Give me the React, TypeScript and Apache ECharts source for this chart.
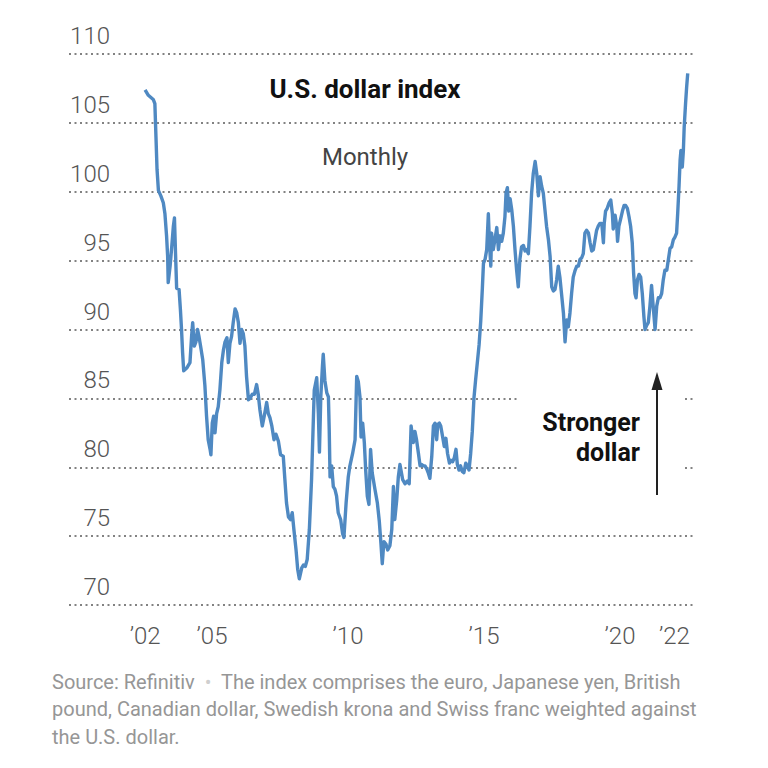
import React, { useEffect, useRef } from "react";
import * as echarts from "echarts";

// Monthly U.S. dollar index (Refinitiv)
const dates = [
  2002.54, 2002.66, 2002.84, 2002.90, 2002.94, 2002.98, 2003.03, 2003.12, 2003.21, 2003.27,
  2003.33, 2003.37, 2003.39, 2003.46, 2003.52, 2003.58, 2003.62, 2003.66, 2003.70, 2003.79,
  2003.84, 2003.88, 2003.92, 2003.96, 2004.07, 2004.19, 2004.25, 2004.29, 2004.35, 2004.41,
  2004.47, 2004.52, 2004.58, 2004.66, 2004.74, 2004.80, 2004.86, 2004.93, 2004.96, 2005.01,
  2005.06, 2005.11, 2005.17, 2005.23, 2005.29, 2005.36, 2005.42, 2005.48, 2005.55, 2005.60,
  2005.66, 2005.72, 2005.78, 2005.85, 2005.91, 2005.97, 2006.03, 2006.09, 2006.15, 2006.21,
  2006.27, 2006.34, 2006.40, 2006.48, 2006.56, 2006.64, 2006.70, 2006.76, 2006.85, 2006.92,
  2007.01, 2007.07, 2007.13, 2007.20, 2007.28, 2007.35, 2007.44, 2007.52, 2007.62, 2007.68,
  2007.74, 2007.81, 2007.89, 2007.95, 2008.01, 2008.09, 2008.15, 2008.21, 2008.30, 2008.36,
  2008.43, 2008.50, 2008.58, 2008.66, 2008.73, 2008.76, 2008.85, 2008.91, 2008.95, 2009.00,
  2009.06, 2009.09, 2009.15, 2009.22, 2009.28, 2009.31, 2009.34, 2009.40, 2009.46, 2009.52,
  2009.58, 2009.64, 2009.73, 2009.80, 2009.85, 2009.93, 2010.01, 2010.07, 2010.17, 2010.26,
  2010.32, 2010.38, 2010.44, 2010.48, 2010.54, 2010.60, 2010.65, 2010.71, 2010.77, 2010.83,
  2010.89, 2010.99, 2011.08, 2011.15, 2011.21, 2011.26, 2011.32, 2011.40, 2011.46, 2011.54,
  2011.61, 2011.67, 2011.72, 2011.79, 2011.85, 2011.91, 2012.01, 2012.10, 2012.18, 2012.25,
  2012.32, 2012.40, 2012.46, 2012.52, 2012.59, 2012.65, 2012.71, 2012.77, 2012.83, 2012.89,
  2012.95, 2013.01, 2013.08, 2013.14, 2013.20, 2013.26, 2013.30, 2013.36, 2013.41, 2013.48,
  2013.54, 2013.60, 2013.66, 2013.73, 2013.79, 2013.85, 2013.91, 2013.97, 2014.02, 2014.08,
  2014.14, 2014.20, 2014.26, 2014.33, 2014.39, 2014.45, 2014.51, 2014.57, 2014.63, 2014.69,
  2014.75, 2014.82, 2014.88, 2014.94, 2014.98, 2015.04, 2015.10, 2015.16, 2015.20, 2015.25,
  2015.28, 2015.34, 2015.40, 2015.47, 2015.53, 2015.59, 2015.65, 2015.71, 2015.77, 2015.81,
  2015.86, 2015.91, 2015.96, 2016.02, 2016.08, 2016.14, 2016.20, 2016.26, 2016.32, 2016.38,
  2016.45, 2016.51, 2016.57, 2016.63, 2016.69, 2016.75, 2016.81, 2016.88, 2016.94, 2017.00,
  2017.06, 2017.12, 2017.18, 2017.24, 2017.30, 2017.37, 2017.43, 2017.49, 2017.55, 2017.61,
  2017.67, 2017.73, 2017.79, 2017.85, 2017.92, 2017.98, 2018.04, 2018.10, 2018.16, 2018.22,
  2018.28, 2018.35, 2018.41, 2018.47, 2018.53, 2018.59, 2018.65, 2018.71, 2018.77, 2018.84,
  2018.90, 2018.96, 2019.02, 2019.08, 2019.14, 2019.20, 2019.26, 2019.33, 2019.39, 2019.42,
  2019.47, 2019.53, 2019.60, 2019.66, 2019.72, 2019.75, 2019.82, 2019.88, 2019.91, 2019.96,
  2020.02, 2020.09, 2020.15, 2020.21, 2020.27, 2020.33, 2020.39, 2020.45, 2020.50, 2020.55,
  2020.59, 2020.64, 2020.70, 2020.76, 2020.82, 2020.88, 2020.92, 2020.98, 2021.04, 2021.10,
  2021.16, 2021.22, 2021.29, 2021.35, 2021.41, 2021.47, 2021.53, 2021.59, 2021.65, 2021.72,
  2021.78, 2021.84, 2021.90, 2021.96, 2022.02, 2022.08, 2022.12, 2022.17, 2022.21, 2022.24,
  2022.29, 2022.33, 2022.36, 2022.41, 2022.45, 2022.49,
];

const indexValues = [
  107.4, 107.0, 106.7, 106.4, 104.0, 101.6, 100.1, 99.7, 99.2, 98.4,
  96.8, 95.3, 93.4, 94.6, 96.0, 97.5, 98.1, 95.5, 93.0, 92.9,
  91.4, 90.0, 88.3, 87.0, 87.2, 87.6, 89.5, 90.5, 88.8, 89.1,
  90.0, 89.5, 88.8, 87.8, 85.9, 83.7, 82.0, 81.3, 80.9, 83.2,
  83.7, 82.5, 83.9, 84.4, 85.6, 87.6, 88.5, 89.1, 89.4, 87.6,
  89.0, 89.5, 90.5, 91.5, 91.2, 90.5, 89.0, 90.0, 89.7, 88.8,
  86.6, 84.9, 85.0, 85.3, 85.3, 86.0, 85.3, 84.2, 83.0, 83.7,
  84.7, 83.9, 83.6, 83.0, 82.0, 82.4, 81.9, 80.9, 80.8, 79.1,
  77.4, 76.4, 76.2, 76.7, 75.5, 74.0, 72.6, 71.9, 72.7, 72.9,
  72.8, 73.3, 75.5, 79.1, 83.7, 85.6, 86.5, 83.9, 81.1, 85.1,
  87.3, 88.2, 86.3, 85.4, 85.1, 82.7, 79.3, 80.1, 78.6, 78.4,
  77.9, 76.7, 76.2, 75.2, 74.9, 77.4, 79.3, 80.1, 81.0, 82.0,
  86.6, 86.2, 85.1, 82.2, 83.2, 81.8, 79.8, 77.9, 77.3, 81.3,
  79.6, 78.4, 77.4, 76.1, 74.5, 73.0, 74.6, 74.4, 74.0, 74.3,
  75.5, 78.6, 76.2, 77.6, 79.3, 80.2, 79.1, 78.8, 79.0, 78.8,
  83.0, 81.8, 82.6, 82.0, 81.0, 80.1, 80.2, 80.1, 80.1, 79.9,
  79.6, 79.2, 80.8, 83.0, 83.2, 82.0, 83.1, 83.2, 83.0, 82.2,
  81.5, 82.1, 81.0, 80.3, 80.5, 80.4, 80.7, 81.3, 80.2, 79.8,
  80.1, 79.7, 79.6, 80.3, 80.1, 79.8, 81.0, 82.6, 85.0, 86.3,
  87.5, 88.9, 90.6, 93.0, 94.8, 95.1, 95.8, 98.4, 96.3, 94.6,
  97.0, 95.8, 96.5, 97.4, 95.8, 96.8, 96.4, 97.0, 98.2, 99.9,
  100.3, 98.6, 99.5, 98.7, 97.5, 95.8, 94.3, 93.1, 95.1, 96.0,
  96.1, 95.7, 95.8, 95.5, 97.5, 99.9, 101.3, 102.2, 101.3, 99.7,
  101.1, 100.4, 99.9, 98.7, 97.5, 96.5, 95.3, 93.1, 92.8, 92.9,
  93.6, 94.6, 93.8, 92.6, 91.2, 89.1, 90.7, 90.2, 91.2, 92.6,
  93.8, 94.3, 94.6, 94.6, 95.1, 95.2, 95.5, 97.0, 97.2, 97.0,
  96.3, 95.7, 95.8, 96.5, 97.2, 97.5, 97.7, 97.7, 96.3, 97.7,
  98.6, 98.8, 99.2, 99.4, 98.4, 97.3, 98.3, 97.5, 96.4, 97.5,
  98.0, 98.6, 99.0, 99.0, 98.8, 98.2, 97.5, 96.3, 94.1, 92.6,
  92.3, 93.6, 94.0, 93.8, 92.6, 90.9, 90.0, 90.3, 90.5, 91.7,
  93.2, 91.7, 90.0, 91.7, 92.3, 92.3, 92.6, 93.6, 94.3, 94.3,
  95.1, 95.9, 96.0, 96.5, 96.7, 97.0, 98.4, 100.4, 102.3, 103.0,
  101.8, 103.0, 104.7, 106.4, 107.6, 108.6,
];

const tickYears = [2002.54, 2005, 2010, 2015, 2020, 2022];
const tickLabels = ["’02", "’05", "’10", "’15", "’20", "’22"];
const yMin = 70;
const yMax = 110;
const yStep = 5;

const title = "U.S. dollar index";
const subtitle = "Monthly";
const annotation = "Stronger\ndollar";
const footer =
  "Source: Refinitiv  {b|•}  The index comprises the euro, Japanese yen, British\npound, Canadian dollar, Swedish krona and Swiss franc weighted against\nthe U.S. dollar.";

export default function App() {
  const ref = useRef<HTMLDivElement>(null);

  useEffect(() => {
    document.body.style.margin = "0";
    const chart = echarts.init(ref.current!, null, { renderer: "svg" });
    const font = "Roboto, 'Noto Sans', sans-serif";
    chart.setOption({
      animation: false,
      backgroundColor: "#ffffff",
      textStyle: { fontFamily: font },
      grid: { left: 69, right: 72, top: 54, bottom: 163 },
      xAxis: {
        type: "value",
        min: 1999.743,
        max: 2022.794,
        axisLine: { show: false },
        axisTick: { show: false },
        splitLine: { show: false },
        axisLabel: {
          customValues: tickYears,
          formatter: (v: number) => {
            const i = tickYears.findIndex((t) => Math.abs(t - v) < 0.01);
            return i >= 0 ? tickLabels[i] : "";
          },
          fontSize: 24,
          fontWeight: 300,
          color: "#555",
          fontFamily: font,
          margin: 19,
        },
      },
      yAxis: {
        type: "value",
        min: yMin,
        max: yMax,
        interval: yStep,
        axisLine: { show: false },
        axisTick: { show: false },
        splitLine: {
          show: true,
          lineStyle: { type: [2, 3.5], color: "#5a5a5a", width: 1.5 },
        },
        axisLabel: {
          inside: true,
          align: "right",
          verticalAlign: "bottom",
          margin: 41,
          padding: [0, 0, 6, 0],
          fontSize: 24,
          fontWeight: 300,
          color: "#555",
          fontFamily: font,
        },
      },
      series: [
        {
          type: "line",
          data: dates.map((d, i) => [d, indexValues[i]]),
          showSymbol: false,
          symbol: "none",
          lineStyle: { color: "#4f89c2", width: 3.4, join: "round" },
          z: 3,
        },
      ],
      graphic: [
        {
          type: "rect",
          z: 1,
          shape: { x: 517, y: 350, width: 167, height: 160 },
          style: { fill: "#ffffff" },
        },
        {
          type: "line",
          z: 4,
          shape: { x1: 657, y1: 385, x2: 657, y2: 495 },
          style: { stroke: "#222", lineWidth: 2 },
        },
        {
          type: "polygon",
          z: 4,
          shape: { points: [[657, 372], [651.5, 390], [662.5, 390]] },
          style: { fill: "#222" },
        },
        {
          type: "text",
          z: 4,
          x: 640,
          y: 407,
          style: {
            text: annotation,
            align: "right",
            verticalAlign: "top",
            font: `bold 25px ${font}`,
            lineHeight: 30,
            fill: "#111",
          },
        },
        {
          type: "text",
          z: 4,
          x: 365,
          y: 89,
          style: {
            text: title,
            align: "center",
            verticalAlign: "middle",
            font: `bold 26px ${font}`,
            fill: "#111",
          },
        },
        {
          type: "text",
          z: 4,
          x: 365,
          y: 157,
          style: {
            text: subtitle,
            align: "center",
            verticalAlign: "middle",
            font: `24px ${font}`,
            fill: "#444",
          },
        },
        {
          type: "text",
          z: 4,
          x: 52,
          y: 668,
          style: {
            text: footer,
            align: "left",
            verticalAlign: "top",
            font: `20px ${font}`,
            lineHeight: 27.5,
            fill: "#969696",
            rich: {
              b: { fill: "#cfcfcf", font: `20px ${font}`, lineHeight: 27.5 },
            },
          },
        },
      ],
    });
    return () => chart.dispose();
  }, []);

  return <div ref={ref} style={{ width: 768, height: 768, background: "#fff" }} />;
}
